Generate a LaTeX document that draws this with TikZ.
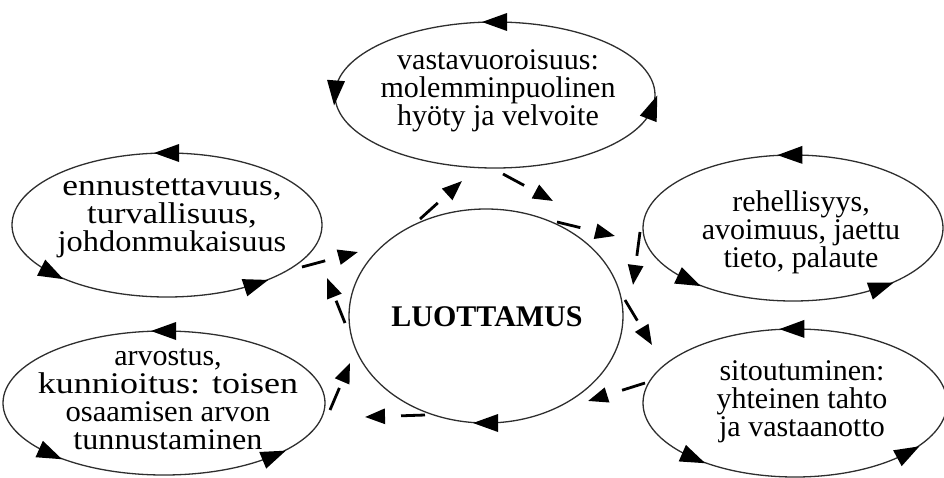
\documentclass[tikz,border=0pt]{standalone}
\usepackage{fontspec}
\usepackage{graphicx}
\setmainfont{Liberation Serif}
\usetikzlibrary{shapes.geometric,arrows.meta}

\definecolor{ringgray}{HTML}{2E2E2E}

\tikzset{
  ring/.style={ellipse, draw=ringgray, line width=1.3pt, inner sep=0pt, outer sep=0pt},
  ringtext/.style={align=center, inner sep=0pt, font=\fontsize{30}{28}\selectfont},
  coretext/.style={inner sep=0pt, font=\fontsize{30}{30}\selectfont\bfseries},
  headtip/.pic={\fill[black] (13pt,0pt) -- (-12pt,9pt) -- (-12pt,-9pt) -- cycle;},
  flow/.style={draw=black, line width=2.8pt, dash pattern=on 24pt off 80pt,
               -{Triangle[length=20pt,width=15pt]}},
}

% horizontally widened line of text
\newcommand\wideline[2]{\scalebox{#1}[1]{#2}}

% arrowhead sitting on an elliptic ring: node, x radius, y radius, angle, turn (0 = ccw, 180 = cw)
\newcommand\ringtip[5]{%
  \pgfmathsetmacro\tipdir{atan2((#3)*cos(#4),-(#2)*sin(#4))+#5}%
  \path (#1.center) ++(#4:#2pt and #3pt) pic[rotate=\tipdir]{headtip};%
}

\begin{document}
\begin{tikzpicture}[x=1pt,y=1pt]
\useasboundingbox (0,0) rectangle (944,-477);

% rings
\node[ring, minimum width=320pt, minimum height=146pt] (top)  at (495,-95)  {};
\node[ring, minimum width=310pt, minimum height=144pt] (lmid) at (167,-225) {};
\node[ring, minimum width=322pt, minimum height=144pt] (lbot) at (164,-403) {};
\node[ring, minimum width=300pt, minimum height=146pt] (rmid) at (793,-228) {};
\node[ring, minimum width=304pt, minimum height=148pt] (rbot) at (795,-403) {};
\node[ring, minimum width=274pt, minimum height=214pt] (core) at (486,-316) {};

% texts
\node[ringtext] (top-t)  at (498,-91)  {vastavuoroisuus:\\molemminpuolinen\\hyöty ja velvoite};
\node[ringtext] (lmid-t) at (172,-218) {\wideline{1.18}{ennustettavuus,}\\\wideline{1.15}{turvallisuus,}\\\wideline{1.08}{johdonmukaisuus}};
\node[ringtext] (lbot-t) at (168,-399) {arvostus,\\\wideline{1.2}{kunnioitus: toisen}\\\wideline{1.02}{osaamisen arvon}\\\wideline{1.07}{tunnustaminen}};
\node[ringtext] (rmid-t) at (801,-232) {rehellisyys,\\avoimuus, jaettu\\tieto, palaute};
\node[ringtext] (rbot-t) at (802,-402) {sitoutuminen:\\yhteinen tahto\\ja vastaanotto};
\node[coretext] (core-t) at (487,-317) {LUOTTAMUS};

% arrowheads on the rings
\ringtip{top}{160}{73}{90}{0}
\ringtip{top}{160}{73}{178}{0}
\ringtip{top}{160}{73}{350}{0}
\ringtip{lmid}{155}{72}{90}{0}
\ringtip{lmid}{155}{72}{222}{0}
\ringtip{lmid}{155}{72}{305}{0}
\ringtip{lbot}{161}{72}{90}{0}
\ringtip{lbot}{161}{72}{225}{0}
\ringtip{lbot}{161}{72}{313}{0}
\ringtip{rmid}{150}{73}{91}{0}
\ringtip{rmid}{150}{73}{226}{0}
\ringtip{rmid}{150}{73}{306}{0}
\ringtip{rbot}{152}{74}{91}{0}
\ringtip{rbot}{152}{74}{228}{0}
\ringtip{rbot}{152}{74}{318}{0}
\ringtip{core}{137}{107}{270}{180}

% dashed flow around the core
\coordinate (f1a) at (420,-219);  \coordinate (f1b) at (462,-181);
\coordinate (f2a) at (503,-174);  \coordinate (f2b) at (553,-201);
\coordinate (f3a) at (557,-222);  \coordinate (f3b) at (615,-236);
\coordinate (f4a) at (640,-232);  \coordinate (f4b) at (633,-285);
\coordinate (f5a) at (625,-300);  \coordinate (f5b) at (652,-345);
\coordinate (f6a) at (645,-383);  \coordinate (f6b) at (588,-401);
\coordinate (f7a) at (425,-415);  \coordinate (f7b) at (365,-417);
\coordinate (f8a) at (330,-410);  \coordinate (f8b) at (350,-363);
\coordinate (f9a) at (345,-323);  \coordinate (f9b) at (327,-278);
\coordinate (f10a) at (302,-267); \coordinate (f10b) at (358,-252);
\foreach \k in {1,...,10} {\draw[flow] (f\k a) -- (f\k b);}
\end{tikzpicture}
\end{document}
